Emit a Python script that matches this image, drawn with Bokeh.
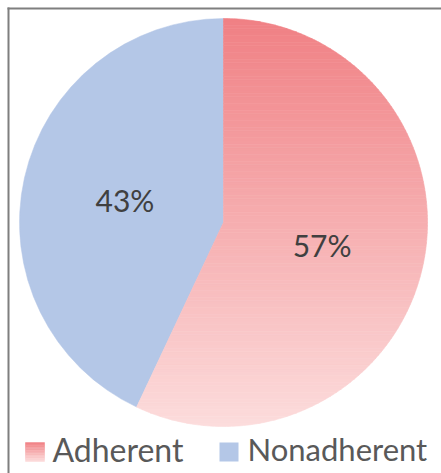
import numpy as np
from bokeh.plotting import figure
from bokeh.models import Range1d
from bokeh.core.properties import value
from bokeh.embed import file_html
from bokeh.resources import INLINE

# ---- data ----
categories = ["Adherent", "Nonadherent"]
shares = [57, 43]
labels = ["57%", "43%"]

# ---- styling / layout ----
W, H = 441, 473
CX, CY, R = 223, 473 - 222, 204
RED_TOP = np.array([240, 128, 132])
RED_BOT = np.array([252, 220, 220])
BLUE = "#b4c7e7"
LABEL_COLOR = "#404040"
LEGEND_TEXT = "#595959"
FONT = "Lato"

p = figure(width=W, height=H, output_backend="svg", toolbar_location=None,
           x_range=Range1d(0, W), y_range=Range1d(0, H), min_border=0,
           x_axis_location=None, y_axis_location=None, title=None)
p.grid.visible = False
p.outline_line_color = None
p.background_fill_color = "white"


def hexc(c):
    return "#%02x%02x%02x" % tuple(int(round(v)) for v in c)


def clip(poly, y0, keep_above):
    out = []
    n = len(poly)
    for i in range(n):
        a = poly[i]
        b = poly[(i + 1) % n]
        ia = (a[1] >= y0) if keep_above else (a[1] <= y0)
        ib = (b[1] >= y0) if keep_above else (b[1] <= y0)
        if ia:
            out.append(a)
        if ia != ib:
            t = (y0 - a[1]) / (b[1] - a[1])
            out.append((a[0] + t * (b[0] - a[0]), y0))
    return out


def gradient_fill(poly, ytop, ybot, ctop, cbot, nb):
    xs, ys, cols = [], [], []
    edges = np.linspace(ytop, ybot, nb + 1)
    for i in range(nb):
        hi, lo = edges[i], edges[i + 1]
        q = clip(poly, lo, True)
        if len(q) < 3:
            continue
        q = clip(q, hi, False)
        if len(q) < 3:
            continue
        t = (i + 0.5) / nb
        cols.append(hexc(ctop + (cbot - ctop) * t))
        xs.append([pt[0] for pt in q])
        ys.append([pt[1] for pt in q])
    return xs, ys, cols


# angles from data
total = float(sum(shares))
start = np.pi / 2
fracs = [s / total for s in shares]
a_red_end = start - 2 * np.pi * fracs[0]

# Nonadherent wedge (solid blue)
p.wedge(x=CX, y=CY, radius=R, start_angle=a_red_end, end_angle=start - 2 * np.pi,
        direction="clock", fill_color=BLUE, line_color=BLUE, line_width=0.5)

# Adherent wedge with vertical gradient
th = np.linspace(start, a_red_end, 300)
poly = [(CX, CY)] + [(CX + R * np.cos(t), CY + R * np.sin(t)) for t in th]
xs, ys, cols = gradient_fill(poly, CY + R, CY - R, RED_TOP, RED_BOT, 120)
p.patches(xs=xs, ys=ys, fill_color=cols, line_color=cols, line_width=0.6)

# percentage labels
mids = [start - np.pi * fracs[0], a_red_end - np.pi * fracs[1]]
LR = 0.495 * R
for i in range(2):
    p.text(x=[CX + LR * np.cos(mids[i])], y=[CY + LR * np.sin(mids[i])],
           text=[labels[i]], text_align="center", text_baseline="middle",
           text_font=value(FONT), text_font_size="30px", text_color=LABEL_COLOR)

# legend
SW_Y = 473 - 451.5
sq = 19
sw_x = [25, 219]
txt_x = [52, 247]
txt_sizes = ["32px", "31px"]
TXT_Y = 473 - 448.5
spoly = [(sw_x[0], SW_Y - sq / 2), (sw_x[0] + sq, SW_Y - sq / 2),
         (sw_x[0] + sq, SW_Y + sq / 2), (sw_x[0], SW_Y + sq / 2)]
sxs, sys_, scols = gradient_fill(spoly, SW_Y + sq / 2, SW_Y - sq / 2, RED_TOP, RED_BOT, 12)
p.patches(xs=sxs, ys=sys_, fill_color=scols, line_color=scols, line_width=0.5)
p.rect(x=[sw_x[1] + sq / 2], y=[SW_Y], width=sq, height=sq,
       fill_color=BLUE, line_color=None)
for i in range(2):
    p.text(x=[txt_x[i]], y=[TXT_Y], text=[categories[i]],
           text_align="left", text_baseline="middle", text_font=value(FONT),
           text_font_size=txt_sizes[i], text_color=LEGEND_TEXT)

# frame (top and left edges visible)
p.segment(x0=[8, 7], y0=[0, H - 8], x1=[8, W], y1=[H - 7, H - 8],
          line_color="#7f7f7f", line_width=2)

open("out.html", "w").write(file_html(p, INLINE))
